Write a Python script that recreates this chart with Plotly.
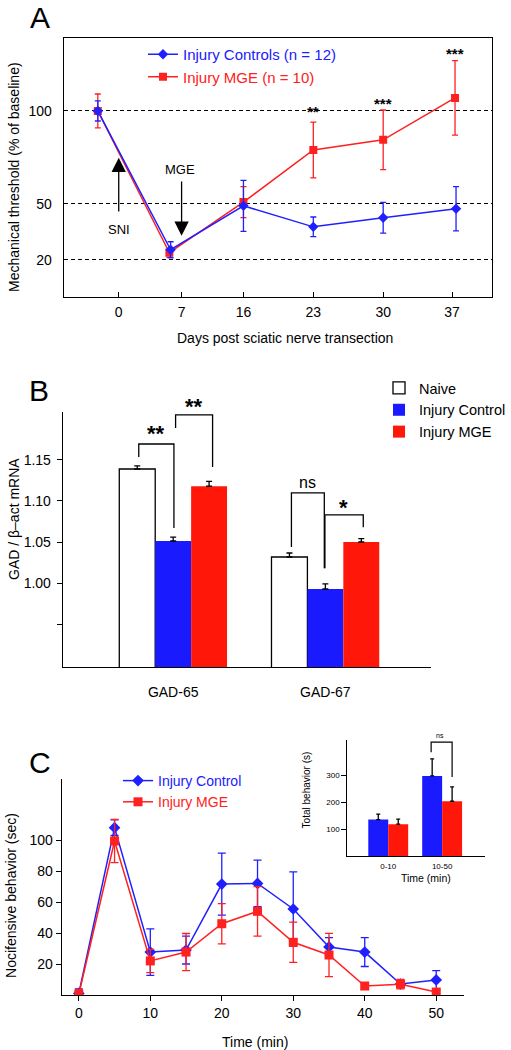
import plotly.graph_objects as go

FONT = "Liberation Sans, Arial, sans-serif"
BLUE = "#2020ff"
RED = "#ff2020"
BAR_BLUE = "#1a1aff"
BAR_RED = "#ff170a"
W, H = 511, 1050

# ---------------- Panel A data ----------------
a_tick_pos = [0, 0.943, 1.871, 2.919, 3.967, 5.0]
a_tick_labels = ["0", "7", "16", "23", "30", "37"]
a_ctrl_x = [-0.314, 0.778, 1.871, 2.919, 3.967, 5.06]
a_ctrl_y = [100, 25.4, 49, 37.7, 42.6, 47.4]
a_ctrl_err = [5.4, 4.3, 13.7, 5.3, 8.3, 11.9]
a_mge_x = [-0.314, 0.76, 1.871, 2.919, 3.967, 5.045]
a_mge_y = [100, 23.8, 51, 79, 84.5, 107]
a_mge_err = [9.1, 2.5, 8.3, 15, 16, 20]
a_sig_text = ["**", "***", "***"]
a_sig_x = [2.919, 3.967, 5.045]
a_sig_y = [99.5, 103.8, 131]

# ---------------- Panel B data ----------------
b_groups = ["GAD-65", "GAD-67"]
b_group_pos = [0, 1]
b_naive = [1.139, 1.0317]
b_naive_err = [0.0037, 0.0049]
b_ctrl = [1.0512, 0.9927]
b_ctrl_err = [0.0048, 0.0063]
b_mge = [1.118, 1.050]
b_mge_err = [0.006, 0.004]

# ---------------- Panel C data ----------------
c_time = [0, 5, 10, 15, 20, 25, 30, 35, 40, 45, 50]
c_ctrl = [1.0, 108, 27.7, 29, 71.6, 72, 55.5, 31, 27.7, 7.1, 9.7]
c_ctrl_err = [3, 5, 15, 9, 20, 15, 24, 6, 9.3, 2, 6]
c_mge = [0.5, 99.4, 22, 27.7, 46, 54, 34, 25.8, 5.8, 7, 1.9]
c_mge_err = [3, 14, 7.5, 12, 13, 16, 13, 14, 2, 3, 1]

inset_periods = ["0-10", "10-50"]
inset_pos = [0, 1]
inset_ctrl = [135, 297]
inset_ctrl_err = [20, 63]
inset_mge = [118, 203]
inset_mge_err = [19, 53]


def px(x):
    return x / W


def py(y):
    return 1 - y / H


fig = go.Figure()

# ---- Panel A traces ----
fig.add_trace(go.Scatter(
    x=a_mge_x, y=a_mge_y, mode="lines+markers",
    name="<span style='color:#ff2020'>Injury MGE (n = 10)</span>",
    line=dict(color=RED, width=1.5),
    marker=dict(symbol="square", size=8, color=RED),
    error_y=dict(type="data", array=a_mge_err, color=RED, thickness=1.3, width=3),
    xaxis="x", yaxis="y", legend="legend", legendrank=2))
fig.add_trace(go.Scatter(
    x=a_ctrl_x, y=a_ctrl_y, mode="lines+markers",
    name="<span style='color:#2020ff'>Injury Controls (n = 12)</span>",
    line=dict(color=BLUE, width=1.5),
    marker=dict(symbol="diamond", size=8, color=BLUE),
    error_y=dict(type="data", array=a_ctrl_err, color=BLUE, thickness=1.3, width=3),
    xaxis="x", yaxis="y", legend="legend", legendrank=1))

# ---- Panel B traces ----
bw = 0.236
err_b = dict(type="data", symmetric=False, color="black", thickness=1.3, width=3)
fig.add_trace(go.Bar(
    x=b_group_pos, y=b_naive, name="Naive", width=bw, offset=-1.5 * bw,
    marker=dict(color="white", line=dict(color="black", width=1.3)),
    error_y=dict(err_b, array=b_naive_err, arrayminus=[0, 0]),
    xaxis="x2", yaxis="y2", legend="legend2"))
fig.add_trace(go.Bar(
    x=b_group_pos, y=b_ctrl, name="Injury Control", width=bw, offset=-0.5 * bw,
    marker=dict(color=BAR_BLUE, line=dict(width=0)),
    error_y=dict(err_b, array=b_ctrl_err, arrayminus=[0, 0]),
    xaxis="x2", yaxis="y2", legend="legend2"))
fig.add_trace(go.Bar(
    x=b_group_pos, y=b_mge, name="Injury MGE", width=bw, offset=0.5 * bw,
    marker=dict(color=BAR_RED, line=dict(width=0)),
    error_y=dict(err_b, array=b_mge_err, arrayminus=[0, 0]),
    xaxis="x2", yaxis="y2", legend="legend2"))

# ---- Panel C traces ----
fig.add_trace(go.Scatter(
    x=c_time, y=c_ctrl, mode="lines+markers",
    name="<span style='color:#2020ff'>Injury Control</span>",
    line=dict(color=BLUE, width=1.5),
    marker=dict(symbol="diamond", size=9, color=BLUE),
    error_y=dict(type="data", array=c_ctrl_err, color=BLUE, thickness=1.3, width=4),
    xaxis="x3", yaxis="y3", legend="legend3"))
fig.add_trace(go.Scatter(
    x=c_time, y=c_mge, mode="lines+markers",
    name="<span style='color:#ff2020'>Injury MGE</span>",
    line=dict(color=RED, width=1.5),
    marker=dict(symbol="square", size=9, color=RED),
    error_y=dict(type="data", array=c_mge_err, color=RED, thickness=1.3, width=4),
    xaxis="x3", yaxis="y3", legend="legend3"))

# ---- Inset bars ----
iw = 0.37
err_i = dict(type="data", symmetric=False, color="black", thickness=1.3, width=2)
fig.add_trace(go.Bar(
    x=inset_pos, y=inset_ctrl, width=iw, offset=-iw, showlegend=False,
    marker=dict(color=BAR_BLUE, line=dict(width=0)),
    error_y=dict(err_i, array=inset_ctrl_err, arrayminus=[0, 0]),
    xaxis="x4", yaxis="y4"))
fig.add_trace(go.Bar(
    x=inset_pos, y=inset_mge, width=iw, offset=0, showlegend=False,
    marker=dict(color=BAR_RED, line=dict(width=0)),
    error_y=dict(err_i, array=inset_mge_err, arrayminus=[0, 0]),
    xaxis="x4", yaxis="y4"))

tickfont = dict(family=FONT, size=14, color="black")

annotations = []


def text(x, y, s, size=14, bold=False, angle=0, xanchor="center", yanchor="middle", xref="paper", yref="paper"):
    if bold:
        s = "<b>" + s + "</b>"
    annotations.append(dict(
        x=x, y=y, xref=xref, yref=yref, text=s, showarrow=False,
        textangle=angle, xanchor=xanchor, yanchor=yanchor,
        font=dict(family=FONT, size=size, color="black")))


# panel letters
text(px(40), py(17), "A", size=30)
text(px(39), py(390), "B", size=30)
text(px(40), py(762), "C", size=30)

# axis titles
text(px(14), py(177), "Mechanical threshold (% of baseline)", size=14, angle=-90)
text(px(286), py(338), "Days post sciatic nerve transection", size=14)
text(px(14), py(519), "GAD / β–act mRNA", size=14, angle=-90)
text(px(11), py(895), "Nocifensive behavior (sec)", size=14, angle=-90)
text(px(255), py(1042), "Time (min)", size=14)
text(px(307), py(790), "Total behavior (s)", size=10, angle=-90)
text(px(427), py(878), "Time (min)", size=10.5)

# significance stars in A
for sx, sy, st in zip(a_sig_x, a_sig_y, a_sig_text):
    text(sx, sy, st, size=15, bold=True, xref="x", yref="y")

# SNI / MGE arrows
annotations.append(dict(x=0, y=74.8, ax=0, ay=45.2, xref="x", yref="y", axref="x", ayref="y",
                        text="", showarrow=True, arrowhead=2, arrowsize=2.2, arrowwidth=1.3,
                        arrowcolor="black"))
annotations.append(dict(x=0.943, y=32.9, ax=0.943, ay=62.9, xref="x", yref="y", axref="x", ayref="y",
                        text="", showarrow=True, arrowhead=2, arrowsize=2.2, arrowwidth=1.3,
                        arrowcolor="black"))
text(0, 36.1, "SNI", size=13, xref="x", yref="y")
text(0.92, 68.3, "MGE", size=13, xref="x", yref="y")

# significance brackets in B
shapes = []


def bracket(xl, yl, xr, yr, ytop, xref, yref, lw=1.3):
    shapes.append(dict(type="path", xref=xref, yref=yref,
                       path=f"M{xl},{yl} L{xl},{ytop} L{xr},{ytop} L{xr},{yr}",
                       line=dict(color="black", width=lw)))


bracket(-0.226, 1.1537, 0.005, 1.067, 1.1695, "x2", "y2")
bracket(0.016, 1.189, 0.259, 1.1415, 1.205, "x2", "y2")
bracket(0.777, 1.0439, 0.993, 1.018, 1.1098, "x2", "y2")
bracket(0.997, 1.018, 1.249, 1.068, 1.083, "x2", "y2")
text(-0.11, 1.1817, "**", size=22, bold=True, xref="x2", yref="y2")
text(px(194), py(406), "**", size=22, bold=True)
text(0.882, 1.122, "ns", size=16, xref="x2", yref="y2")
text(1.12, 1.092, "*", size=22, bold=True, xref="x2", yref="y2")

# inset bracket
bracket(0.796, 385, 1.185, 293, 422, "x4", "y4", lw=1.2)
text(px(441), py(735), "ns", size=7)

fig.update_layout(
    width=W, height=H,
    margin=dict(l=0, r=0, t=0, b=0),
    paper_bgcolor="white", plot_bgcolor="white",
    barmode="overlay",
    font=dict(family=FONT, size=14, color="black"),
    annotations=annotations,
    shapes=shapes,
    xaxis=dict(domain=[px(64), px(493)], range=[-0.823, 5.6], anchor="y",
               tickvals=a_tick_pos, ticktext=a_tick_labels, ticks="inside", ticklen=5,
               tickwidth=1.3, tickcolor="black", showline=True, mirror=True,
               linecolor="black", linewidth=1.4, showgrid=False, zeroline=False,
               tickfont=tickfont, ticklabelstandoff=2),
    yaxis=dict(domain=[py(297), py(38)], range=[0, 139.2], anchor="x",
               tickvals=[20, 50, 100], ticks="", showline=True, mirror=True,
               linecolor="black", linewidth=1.4, showgrid=True, gridcolor="black",
               gridwidth=1.3, griddash="4px,3px", zeroline=False, tickfont=tickfont,
               ticklabelstandoff=8),
    xaxis2=dict(domain=[px(63), px(432)], range=[-0.7246, 1.695], anchor="y2",
                tickvals=b_group_pos, ticktext=b_groups, ticks="", showline=True,
                linecolor="black", linewidth=1.4, showgrid=False, zeroline=False,
                tickfont=tickfont, ticklabelstandoff=12),
    yaxis2=dict(domain=[py(667), py(412)], range=[0.8976, 1.2085], anchor="x2",
                tickvals=[0.95, 1.00, 1.05, 1.10, 1.15],
                ticktext=["", "1.00", "1.05", "1.10", "1.15"],
                ticks="outside", ticklen=5, tickwidth=1.3, tickcolor="black",
                showline=True, linecolor="black", linewidth=1.4, showgrid=False,
                zeroline=False, tickfont=tickfont, ticklabelstandoff=3),
    xaxis3=dict(domain=[px(62), px(465)], range=[-2.37, 53.9], anchor="y3",
                tickvals=[0, 10, 20, 30, 40, 50], ticks="outside", ticklen=5,
                tickwidth=1.3, tickcolor="black", showline=True, linecolor="black",
                linewidth=1.4, showgrid=False, zeroline=False, tickfont=tickfont),
    yaxis3=dict(domain=[py(995), py(779)], range=[0, 139.4], anchor="x3",
                tickvals=[20, 40, 60, 80, 100], ticks="outside", ticklen=5,
                tickwidth=1.3, tickcolor="black", showline=True, linecolor="black",
                linewidth=1.4, showgrid=False, zeroline=False, tickfont=tickfont),
    xaxis4=dict(domain=[px(348), px(486)], range=[-0.759, 1.796], anchor="y4",
                tickvals=inset_pos, ticktext=inset_periods, ticks="", showline=True,
                linecolor="black", linewidth=1.2, showgrid=False, zeroline=False,
                tickfont=dict(family=FONT, size=8, color="black"), ticklabelstandoff=2),
    yaxis4=dict(domain=[py(856), py(740)], range=[0, 430], anchor="x4",
                tickvals=[100, 200, 300], ticks="outside", ticklen=5, tickwidth=1.2,
                tickcolor="black", showline=True, linecolor="black", linewidth=1.2,
                showgrid=False, zeroline=False,
                tickfont=dict(family=FONT, size=8, color="black")),
    legend=dict(x=px(143), y=py(38), xanchor="left", yanchor="top",
                bgcolor="rgba(0,0,0,0)", font=dict(family=FONT, size=15),
                traceorder="normal"),
    legend2=dict(x=px(380), y=py(372), xanchor="left", yanchor="top",
                 bgcolor="rgba(0,0,0,0)", font=dict(family=FONT, size=14.5, color="black")),
    legend3=dict(x=px(118), y=py(765), xanchor="left", yanchor="top",
                 bgcolor="rgba(0,0,0,0)", font=dict(family=FONT, size=14)),
)

# remove the default 8px page margin so the 511x1050 figure fills the window exactly
fig.write_html("out.html", config={"displayModeBar": False},
               post_script="document.body.style.margin='0px';")
